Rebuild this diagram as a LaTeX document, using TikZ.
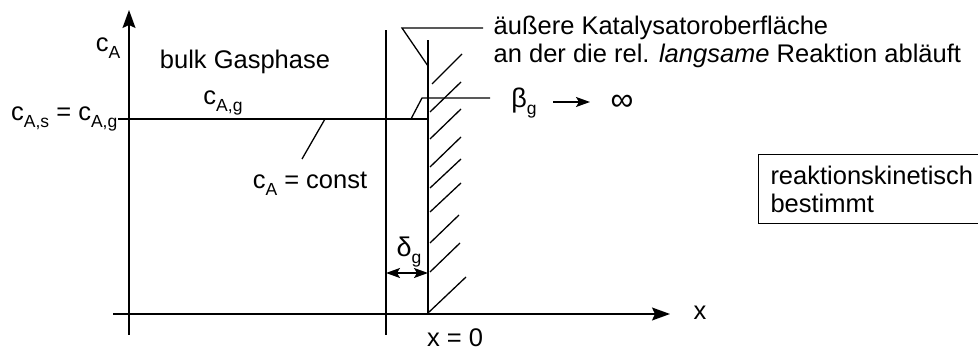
\documentclass[tikz,border=0pt]{standalone}
\usepackage{fontspec}
\setmainfont{Liberation Sans}
\usetikzlibrary{arrows.meta}
\newcommand\lowsub[1]{\raisebox{-0.28em}{\fontsize{17.5}{17.5}\selectfont #1}}
\begin{document}
\begin{tikzpicture}[x=1pt,y=-1pt, line width=1.4pt,
  font=\fontsize{25.5}{28}\selectfont,
  lbl/.style={inner sep=0pt},
  bigtip/.style={-{Stealth[length=18pt,width=13pt,inset=3pt]}},
  smalltip/.style={-{Stealth[length=14pt,width=10pt,inset=3pt]}},
  dbltip/.style={{Stealth[length=14pt,width=10pt,inset=3pt]}-{Stealth[length=14pt,width=10pt,inset=3pt]}},
  leader/.style={line width=1.3pt}]
\useasboundingbox (0,0) rectangle (978,352);
\clip (0,0) rectangle (978,352);
% axes
\coordinate (yb) at (129,335); \coordinate (yt) at (129,10);
\coordinate (xl) at (113,314); \coordinate (xr) at (670,314);
\draw[bigtip] (yb) -- (yt);
\draw[bigtip] (xl) -- (xr);
% film boundary and surface
\coordinate (fb) at (386,335); \coordinate (ft) at (386,30);
\coordinate (sb) at (428,314); \coordinate (st) at (428,40);
\draw (fb) -- (ft);
\draw (sb) -- (st);
% hatching
\foreach \a/\b/\c/\d in {432/84/462/54, 430/112/461/82, 430/139/461/109, 430/167/461/137,
  430/188/461/159, 430/212/461/183, 430/243/459/215, 430/272/460/243, 428/313/466/277}
  \draw[leader] (\a,\b) -- (\c,\d);
% labels
\node[lbl] (ca) at (108,48) {c\lowsub{A}};
\node[lbl] (bulk) at (245,62) {bulk Gasphase};
\node[lbl] (cag) at (223,103) {c\lowsub{A,g}};
\node[lbl, anchor=east] (cas) at (118,119) {c\lowsub{A,s} = c\lowsub{A,g}};
\node[lbl] (const) at (310,184) {c\lowsub{A} = const};
\node[lbl] (delta) at (409,252) {\fontsize{27}{28}\selectfont δ\lowsub{g}};
\node[lbl, anchor=base] (x0) at (455,347) {x = 0};
\node[lbl] (xlab) at (700,313) {x};
\node[lbl, anchor=base west] (t1) at (493,35) {äußere Katalysatoroberfläche};
\node[lbl, anchor=base west] (t2) at (493,63) {an der die rel. \textit{langsame} Reaktion abläuft};
\node[lbl] (beta) at (524,103) {\fontsize{27}{28}\selectfont β\lowsub{g}};
\node[lbl] (inf) at (622,103) {\fontsize{32}{32}\selectfont ∞};
\node[draw, line width=1pt, anchor=north west, minimum width=260pt, minimum height=69pt,
  text width=236pt, align=left, inner xsep=12pt, inner ysep=0pt] (box) at (758,154)
  {reaktionskinetisch\\bestimmt};
% profile
\coordinate (ps) at (428,119);
\draw (cas.east |- ps) -- (ps);
% leaders
\coordinate (a1) at (483,28); \coordinate (a2) at (402,28); \coordinate (a3) at (428,66);
\draw[leader] (a1) -- (a2) -- (a3);
\coordinate (b1) at (490,98); \coordinate (b2) at (422,98); \coordinate (b3) at (411,119);
\draw[leader] (b1) -- (b2) -- (b3);
\coordinate (c1) at (325,119); \coordinate (c2) at (302,159);
\draw[leader] (c1) -- (c2);
% beta arrow
\coordinate (ba) at (553,102); \coordinate (bb) at (590,102);
\draw[smalltip] (ba) -- (bb);
% delta arrow
\coordinate (d1) at (386,273); \coordinate (d2) at (428,273);
\draw[dbltip] (d1) -- (d2);
\end{tikzpicture}
\end{document}
